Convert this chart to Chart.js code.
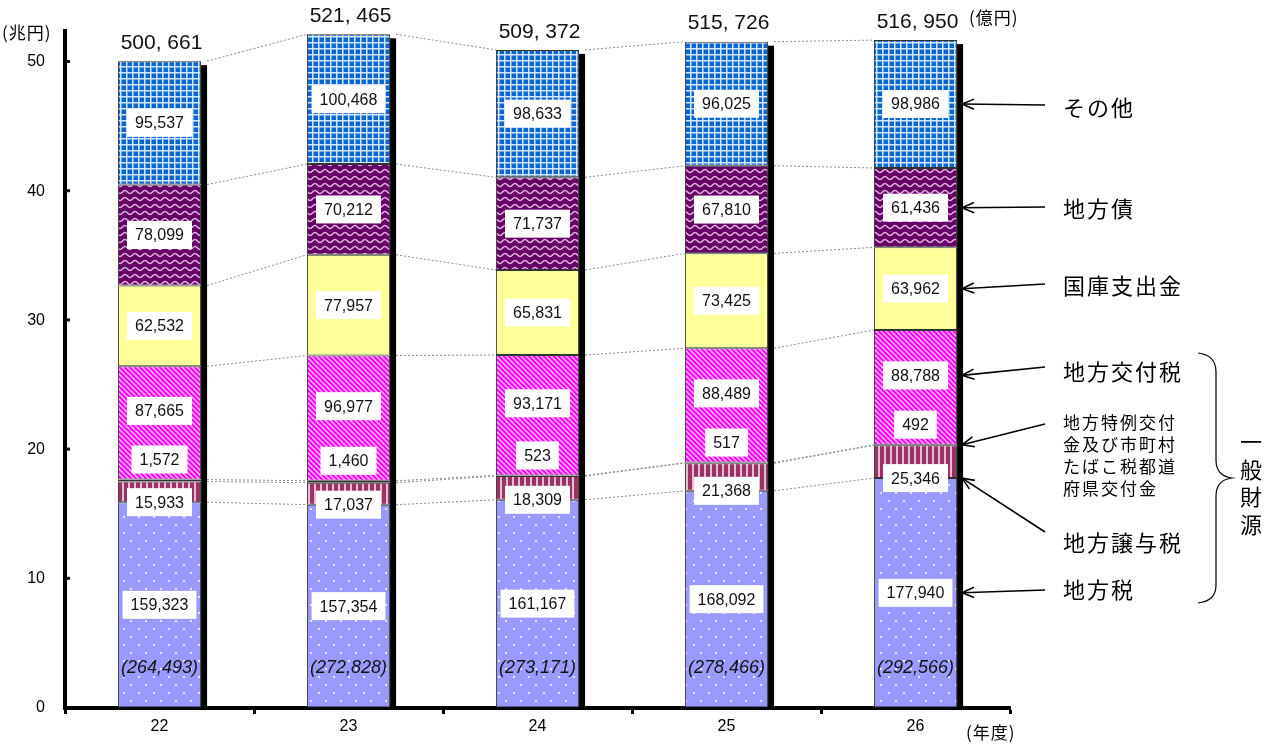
<!DOCTYPE html>
<html>
<head>
<meta charset="utf-8">
<script src="https://cdn.jsdelivr.net/npm/chart.js@4.4.1/dist/chart.umd.min.js"></script>
<style>
  html, body { margin: 0; padding: 0; background: #fff; }
  #wrap { width: 1273px; height: 744px; }
</style>
</head>
<body>
<div id="wrap"><canvas id="c" width="1273" height="744"></canvas></div>
<script>
// ── DATA (億円) ──
const years = ['22', '23', '24', '25', '26'];
const seriesNames = ['地方税', '地方譲与税', '地方特例交付金等', '地方交付税', '国庫支出金', '地方債', 'その他'];
const localTax      = [159323, 157354, 161167, 168092, 177940];
const transferTax   = [15933, 17037, 18309, 21368, 25346];
const specialGrant  = [1572, 1460, 523, 517, 492];
const allocationTax = [87665, 96977, 93171, 88489, 88788];
const treasury      = [62532, 77957, 65831, 73425, 63962];
const localBonds    = [78099, 70212, 71737, 67810, 61436];
const others        = [95537, 100468, 98633, 96025, 98986];
const totals        = [500661, 521465, 509372, 515726, 516950];
const generalRevenue = [264493, 272828, 273171, 278466, 292566];
const yTicks = [0, 10, 20, 30, 40, 50];

const JP = '"Noto Sans CJK JP", sans-serif';
const NUM = '"Liberation Sans", Arial, sans-serif';

// ── PATTERNS ──
const mainCtx = document.getElementById('c').getContext('2d');
function pat(w, h, draw) {
  const cv = document.createElement('canvas');
  cv.width = w; cv.height = h;
  draw(cv.getContext('2d'), w, h);
  return mainCtx.createPattern(cv, 'repeat');
}
const fills = [
  pat(15, 16, g => { g.fillStyle = '#9999ff'; g.fillRect(0, 0, 15, 16); g.fillStyle = '#e4e4ff'; g.fillRect(3, 4, 2, 2); g.fillRect(10, 12, 2, 2); }),
  pat(6, 2, g => { g.fillStyle = '#993366'; g.fillRect(0, 0, 6, 2); g.fillStyle = '#e8bcd2'; g.fillRect(2, 0, 2, 2); }),
  pat(5, 5, g => {
    g.fillStyle = '#ff00ff'; g.fillRect(0, 0, 5, 5);
    g.strokeStyle = '#ffc2ff'; g.lineWidth = 1.4;
    [[0, 0, 5, 5], [-5, 0, 0, 5], [5, 0, 10, 5], [0, -5, 5, 0], [0, 5, 5, 10]].forEach(l => { g.beginPath(); g.moveTo(l[0], l[1]); g.lineTo(l[2], l[3]); g.stroke(); });
  }),
  null,
  '#ffff99',
  pat(10, 7, g => {
    g.fillStyle = '#660066'; g.fillRect(0, 0, 10, 7);
    g.strokeStyle = '#e0b0e0'; g.lineWidth = 1.6;
    g.beginPath(); g.moveTo(0, 4.5);
    g.bezierCurveTo(2.5, 4.5, 2.5, 1.5, 5, 1.5);
    g.bezierCurveTo(7.5, 1.5, 7.5, 4.5, 10, 4.5);
    g.stroke();
  }),
  pat(6, 6, g => { g.fillStyle = '#0a66d0'; g.fillRect(0, 0, 6, 6); g.fillStyle = '#d6e7fd'; g.fillRect(0, 0, 6, 1.5); g.fillRect(0, 0, 1.5, 6); })
];
fills[3] = fills[2];

const seriesValues = [localTax, transferTax, specialGrant, allocationTax, treasury, localBonds, others];

// ── PLUGIN: shadows, connectors, labels, annotations ──
function labelY(i, el) {
  const mid = (el.y + el.base) / 2;
  if (i === 1) return el.base;
  if (i === 2) return el.y - 20;
  if (i === 3) return mid - 12;
  return mid;
}
function boxLabel(ctx, text, x, y) {
  const w = ctx.measureText(text).width + 16;
  ctx.fillStyle = '#fff';
  ctx.fillRect(x - w / 2, y - 14, w, 28);
  ctx.fillStyle = '#111';
  ctx.fillText(text, x, y + 1);
}
function arrow(ctx, x1, y1, x2, y2) {
  const a = Math.atan2(y2 - y1, x2 - x1);
  ctx.beginPath(); ctx.moveTo(x1, y1); ctx.lineTo(x2, y2); ctx.stroke();
  ctx.beginPath();
  ctx.moveTo(x2 - 13 * Math.cos(a - 0.4), y2 - 13 * Math.sin(a - 0.4));
  ctx.lineTo(x2, y2);
  ctx.lineTo(x2 - 13 * Math.cos(a + 0.4), y2 - 13 * Math.sin(a + 0.4));
  ctx.stroke();
}

const decor = {
  id: 'decor',
  beforeDatasetsDraw(chart) {
    const ctx = chart.ctx;
    const metas = chart.data.datasets.map((d, i) => chart.getDatasetMeta(i));
    ctx.save();
    ctx.strokeStyle = '#8c8c8c'; ctx.lineWidth = 1; ctx.setLineDash([2, 2]);
    for (let j = 0; j < years.length - 1; j++) {
      metas.forEach(m => {
        const a = m.data[j], b = m.data[j + 1];
        ctx.beginPath();
        ctx.moveTo(a.x + a.width / 2 + 6, a.y);
        ctx.lineTo(b.x - b.width / 2, b.y);
        ctx.stroke();
      });
    }
    ctx.setLineDash([]);
    ctx.fillStyle = '#000';
    metas[metas.length - 1].data.forEach(el => {
      ctx.fillRect(el.x + el.width / 2, el.y + 4, 6, chart.chartArea.bottom - el.y - 4);
    });
    ctx.restore();
  },
  afterDatasetsDraw(chart) {
    const ctx = chart.ctx;
    const area = chart.chartArea;
    const metas = chart.data.datasets.map((d, i) => chart.getDatasetMeta(i));
    ctx.save();
    ctx.textAlign = 'center'; ctx.textBaseline = 'middle';
    ctx.font = '16px ' + NUM;
    metas.forEach((m, i) => {
      m.data.forEach((el, j) => boxLabel(ctx, seriesValues[i][j].toLocaleString('en-US'), el.x, labelY(i, el)));
    });
    // 一般財源 subtotal (italic)
    ctx.font = 'italic 18px ' + NUM;
    ctx.fillStyle = '#111';
    metas[0].data.forEach((el, j) => ctx.fillText('(' + generalRevenue[j].toLocaleString('en-US') + ')', el.x, area.bottom - 40));
    // totals
    ctx.font = '21px ' + NUM;
    metas[metas.length - 1].data.forEach((el, j) => ctx.fillText(totals[j].toLocaleString('en-US').replace(',', ', '), el.x + 2, el.y - 18));

    // y inward ticks
    const ys = chart.scales.y;
    yTicks.forEach(v => { if (v > 0) ctx.fillRect(area.left + 1, ys.getPixelForValue(v) - 2, 4, 3); });

    // unit labels
    ctx.font = '17px ' + JP;
    ctx.textAlign = 'left';
    ctx.fillStyle = '#000';
    ctx.letterSpacing = '1px';
    ctx.fillText('(兆円)', 2, 33);
    ctx.fillText('(億円)', 969, 18);
    ctx.fillText('(年度)', 966, 733);

    // annotations for the last bar
    const last = metas.map(m => m.data[m.data.length - 1]);
    const tipX = last[0].x + last[0].width / 2 + 5;
    const notes = [
      { i: 6, text: 'その他', y: 108, sy: 105 },
      { i: 5, text: '地方債', y: 209, sy: 207 },
      { i: 4, text: '国庫支出金', y: 286, sy: 284 },
      { i: 3, text: '地方交付税', y: 372, sy: 367 },
      { i: 1, text: '地方譲与税', y: 543, sy: 532 },
      { i: 0, text: '地方税', y: 590, sy: 590 }
    ];
    ctx.strokeStyle = '#000'; ctx.lineWidth = 1.6;
    ctx.font = '22px ' + JP;
    ctx.letterSpacing = '2px';
    notes.forEach(n => {
      ctx.fillText(n.text, 1063, n.y);
      arrow(ctx, 1045, n.sy, tipX, labelY(n.i, last[n.i]));
    });
    ctx.font = '17px ' + JP;
    ['地方特例交付', '金及び市町村', 'たばこ税都道', '府県交付金'].forEach((t, k) => ctx.fillText(t, 1063, 423 + k * 22));
    arrow(ctx, 1045, 424, tipX, last[2].y);
    ctx.letterSpacing = '0px';

    // brace + 一般財源
    ctx.lineWidth = 1.2;
    ctx.beginPath();
    ctx.moveTo(1198, 353);
    ctx.quadraticCurveTo(1216, 355, 1216, 372);
    ctx.lineTo(1216, 460);
    ctx.quadraticCurveTo(1216, 476, 1232, 478);
    ctx.quadraticCurveTo(1216, 480, 1216, 496);
    ctx.lineTo(1216, 585);
    ctx.quadraticCurveTo(1216, 601, 1198, 603);
    ctx.stroke();
    ctx.font = '22px ' + JP;
    ctx.textAlign = 'center';
    ['一', '般', '財', '源'].forEach((c, k) => ctx.fillText(c, 1251, 442 + k * 27.5));
    ctx.restore();
  }
};

// ── CHART ──
new Chart(mainCtx, {
  type: 'bar',
  data: {
    labels: years,
    datasets: seriesValues.map((vals, i) => ({
      label: seriesNames[i],
      data: vals.map(v => v / 10000),
      backgroundColor: fills[i],
      borderColor: '#333',
      borderWidth: 1,
      borderSkipped: false,
      categoryPercentage: 1,
      barPercentage: 0.44
    }))
  },
  options: {
    responsive: false,
    animation: false,
    devicePixelRatio: 1,
    layout: { padding: { left: 0, right: 263, top: 31, bottom: 0 } },
    plugins: { legend: { display: false }, tooltip: { enabled: false } },
    scales: {
      x: {
        stacked: true,
        afterFit: s => { s.height = 36; },
        grid: { offset: true, drawOnChartArea: false, drawTicks: true, tickLength: 6, tickWidth: 3, color: '#000' },
        border: { display: true, color: '#000', width: 4 },
        ticks: { color: '#000', font: { size: 16, family: NUM }, padding: 3 }
      },
      y: {
        stacked: true,
        min: 0,
        max: 52.4,
        afterFit: s => { s.width = 65; },
        afterBuildTicks: s => { s.ticks = yTicks.map(v => ({ value: v })); },
        grid: { drawOnChartArea: false, drawTicks: false },
        border: { display: true, color: '#000', width: 4 },
        ticks: { color: '#000', font: { size: 16, family: NUM }, padding: 20 }
      }
    }
  },
  plugins: [decor]
});
</script>
</body>
</html>
